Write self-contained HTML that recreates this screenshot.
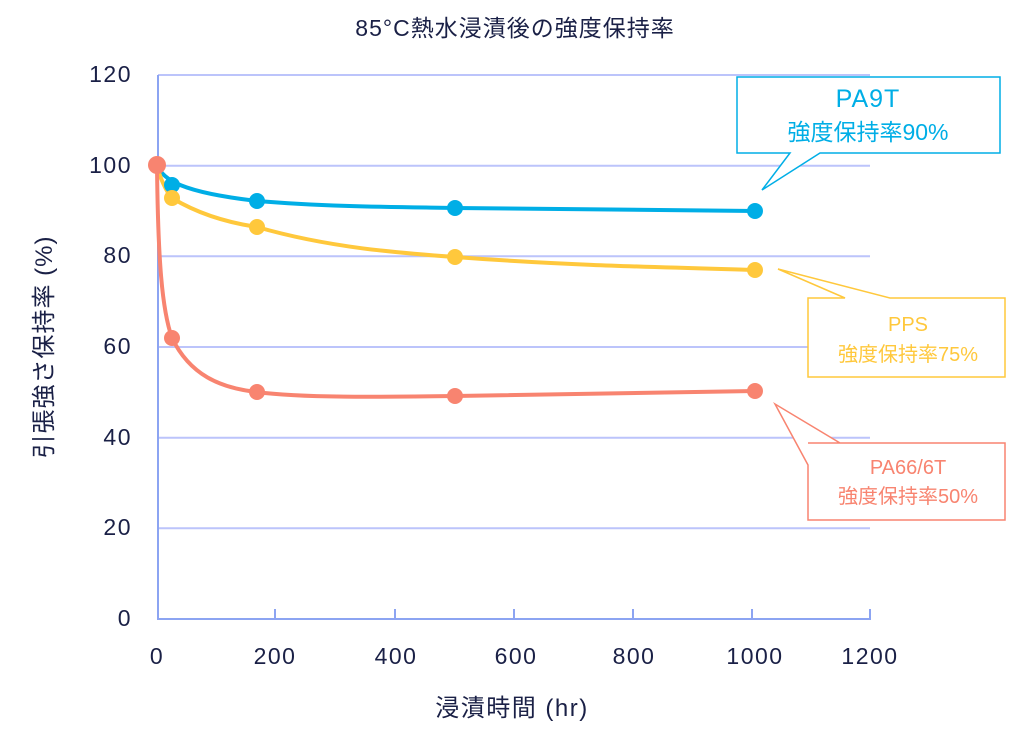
<!DOCTYPE html>
<html><head><meta charset="utf-8"><style>
body{margin:0;background:#fff;}
svg{display:block;font-family:"Liberation Sans","Noto Sans CJK JP",sans-serif;}
</style></head><body>
<svg width="1015" height="748" viewBox="0 0 1015 748">
<text x="515" y="36" font-size="23" fill="#1a2046" text-anchor="middle" letter-spacing="1">85°C熱水浸漬後の強度保持率</text>
<g stroke="#bcc4fb" stroke-width="2">
<line x1="158" y1="75" x2="870" y2="75"/>
<line x1="158" y1="165.7" x2="870" y2="165.7"/>
<line x1="158" y1="256.3" x2="870" y2="256.3"/>
<line x1="158" y1="347" x2="870" y2="347"/>
<line x1="158" y1="437.7" x2="870" y2="437.7"/>
<line x1="158" y1="528.3" x2="870" y2="528.3"/>
</g>
<g stroke="#8ca4f2" stroke-width="2">
<line x1="158" y1="75" x2="158" y2="620"/>
<line x1="157" y1="619" x2="871" y2="619"/>
<line x1="275" y1="609" x2="275" y2="619"/>
<line x1="395" y1="609" x2="395" y2="619"/>
<line x1="514" y1="609" x2="514" y2="619"/>
<line x1="633" y1="609" x2="633" y2="619"/>
<line x1="752" y1="609" x2="752" y2="619"/>
<line x1="870" y1="609" x2="870" y2="619"/>
</g>
<g font-size="23" fill="#1a2046" text-anchor="end" letter-spacing="1.5">
<text x="132" y="82">120</text><text x="132" y="173">100</text><text x="132" y="263">80</text>
<text x="132" y="354">60</text><text x="132" y="445">40</text><text x="132" y="535">20</text><text x="132" y="626">0</text>
</g>
<g font-size="23" fill="#1a2046" text-anchor="middle" letter-spacing="1.5">
<text x="157" y="664">0</text><text x="275" y="664">200</text><text x="396" y="664">400</text>
<text x="516" y="664">600</text><text x="634" y="664">800</text><text x="755" y="664">1000</text><text x="870" y="664">1200</text>
<text x="512" y="716" font-size="24">浸漬時間 (hr)</text>
</g>
<text transform="translate(52,347) rotate(-90)" font-size="24" fill="#1a2046" text-anchor="middle" letter-spacing="1">引張強さ保持率 (%)</text>
<path d="M157,166 C165,180 180,192 257,201 C330,207 400,207 455,208 L755,211" stroke="#00aee6" stroke-width="4" fill="none"/>
<path d="M157,166 C162,185 170,196 172,198 C200,215 230,223 257,227 C330,248 400,253 455,257 C560,265 650,267 755,270" stroke="#ffc83c" stroke-width="4" fill="none"/>
<path d="M157,166 C158,260 162,310 172,338 C190,375 220,388 257,392 C300,398 380,397 455,396 L755,391" stroke="#f88470" stroke-width="4" fill="none"/>
<g fill="#00aee6"><circle cx="172" cy="185" r="8"/><circle cx="257" cy="201" r="8"/><circle cx="455" cy="208" r="8"/><circle cx="755" cy="211" r="8"/></g>
<g fill="#ffc83c"><circle cx="172" cy="198" r="8"/><circle cx="257" cy="227" r="8"/><circle cx="455" cy="257" r="8"/><circle cx="755" cy="270" r="8"/></g>
<g fill="#f88470"><circle cx="157" cy="165" r="9"/><circle cx="172" cy="338" r="8"/><circle cx="257" cy="392" r="8"/><circle cx="455" cy="396" r="8"/><circle cx="755" cy="391" r="8"/></g>
<path d="M737,77 H1000 V153 H820 L762,190 L790,153 H737 Z" fill="#fff" stroke="#00aee6" stroke-width="1.5"/>
<text x="868" y="107" font-size="25" fill="#00aee6" text-anchor="middle" letter-spacing="1">PA9T</text>
<text x="868" y="140" font-size="23" fill="#00aee6" text-anchor="middle">強度保持率90%</text>
<path d="M808,298 H845 L778,269 L890,298 H1005 V377 H808 Z" fill="#fff" stroke="#ffc83c" stroke-width="1.5"/>
<text x="908" y="331" font-size="20" fill="#ffc83c" text-anchor="middle">PPS</text>
<text x="908" y="361" font-size="20" fill="#ffc83c" text-anchor="middle">強度保持率75%</text>
<path d="M808,443 H840 L775,404 L808,465 V520 H1005 V443 H840" fill="#fff" stroke="#f88470" stroke-width="1.5"/>
<text x="908" y="474" font-size="20" fill="#f88470" text-anchor="middle">PA66/6T</text>
<text x="908" y="503" font-size="20" fill="#f88470" text-anchor="middle">強度保持率50%</text>
</svg>
</body></html>
